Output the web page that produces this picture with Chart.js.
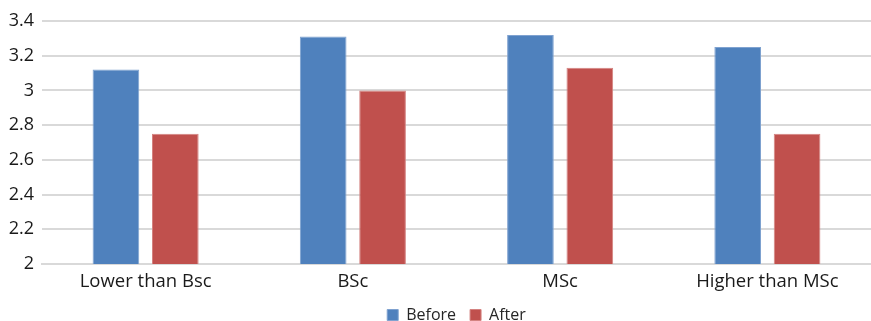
<!DOCTYPE html>
<html>
<head>
<meta charset="utf-8">
<script src="https://cdn.jsdelivr.net/npm/chart.js@4"></script>
<style>
html,body{margin:0;padding:0;background:#fff;}
#wrap{width:871px;height:321px;position:relative;}
</style>
</head>
<body>
<div id="wrap"><canvas id="c" width="871" height="321"></canvas></div>
<script>
const categories = ["Lower than Bsc", "BSc", "MSc", "Higher than MSc"];
const beforeValues = [3.12, 3.31, 3.32, 3.25];
const afterValues = [2.75, 3.00, 3.13, 2.75];
const seriesNames = ["Before", "After"];

const FONT = "'Open Sans', 'Liberation Sans', sans-serif";

new Chart(document.getElementById('c'), {
  type: 'bar',
  data: {
    labels: categories,
    datasets: [
      {label: seriesNames[0], data: beforeValues, backgroundColor: '#4F81BD', borderColor: '#7FA2D0', borderWidth: 1, categoryPercentage: 0.573, barPercentage: 0.786},
      {label: seriesNames[1], data: afterValues, backgroundColor: '#C0504D', borderColor: '#D48381', borderWidth: 1, categoryPercentage: 0.573, barPercentage: 0.786}
    ]
  },
  options: {
    responsive: false,
    animation: false,
    devicePixelRatio: 1,
    layout: {padding: {top: 21, right: 0, left: 0, bottom: -12}},
    plugins: {
      legend: {
        position: 'bottom',
        fullSize: false,
        labels: {boxWidth: 11, boxHeight: 11, padding: 14, color: '#262626', font: {family: FONT, size: 16}}
      },
      tooltip: {enabled: false}
    },
    scales: {
      x: {
        grid: {display: false, drawTicks: false},
        border: {display: true, color: '#d9d9d9', width: 2},
        ticks: {color: '#1a1a1a', font: {family: FONT, size: 18.5}, padding: 7},
        afterFit: s => { s.height = 29; }
      },
      y: {
        min: 2, max: 3.4,
        grid: {color: '#d9d9d9', lineWidth: 2, drawTicks: false},
        border: {display: false},
        ticks: {stepSize: 0.2, color: '#1a1a1a', font: {family: FONT, size: 18}, padding: 8,
          callback: v => String(Math.round(v*10)/10)},
        afterFit: s => { s.width = 42; }
      }
    }
  }
});
</script>
</body>
</html>
